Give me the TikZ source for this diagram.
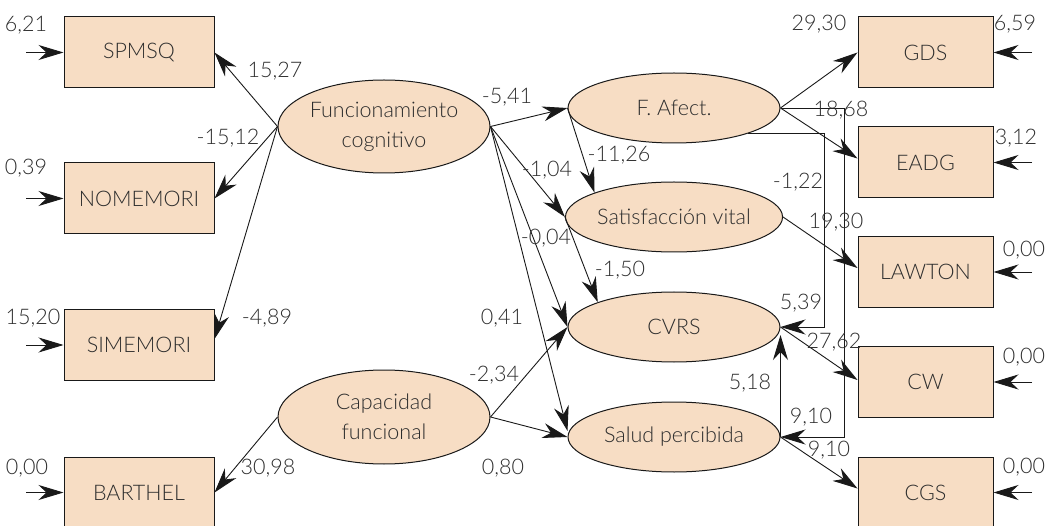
\documentclass[tikz,border=0pt]{standalone}
\usepackage{fontspec}
\setmainfont{Lato Light}
\usetikzlibrary{arrows.meta,shapes.geometric}
\definecolor{peach}{RGB}{247,221,196}
\definecolor{ink}{RGB}{25,25,25}
\definecolor{txt}{RGB}{45,45,45}
\begin{document}
\begin{tikzpicture}[x=1pt,y=-1pt,
  every node/.style={font=\fontsize{21.5}{30}\selectfont, text=txt},
  obs/.style={draw=ink, fill=peach, line width=1pt, minimum height=71pt, inner sep=0pt},
  lbox/.style={obs, minimum width=150pt},
  rbox/.style={obs, minimum width=135pt},
  lat/.style={draw=ink, fill=peach, ellipse, line width=1pt, minimum width=212pt,
              minimum height=70pt, inner sep=0pt, align=center},
  arr/.style={draw=ink, line width=0.9pt, -{Stealth[length=25pt,width=15pt,inset=8pt]}},
  coef/.style={inner sep=0pt}
]
\useasboundingbox (0,0) rectangle (1046,526);

% observed indicators, left column
\node[lbox] (spmsq) at (139,52.5) {SPMSQ};
\node[lbox] (nomem) at (139,198.5) {NOMEMORI};
\node[lbox] (simem) at (139,345) {SIMEMORI};
\node[lbox] (barth) at (139,492.5) {BARTHEL};

% observed indicators, right column
\node[rbox] (gds) at (925.5,52.5) {GDS};
\node[rbox] (eadg) at (925.5,162.5) {EADG};
\node[rbox] (lawton) at (925.5,272) {LAWTON};
\node[rbox] (cw) at (925.5,382) {CW};
\node[rbox] (cgs) at (925.5,492.5) {CGS};

% latent constructs
\node[lat, minimum height=93pt] (fc) at (384,126.5) {Funcionamiento\\cognitivo};
\node[lat, minimum height=94pt] (cf) at (384,417) {Capacidad\\funcional};
\node[lat] (fa) at (674,108) {F. Afect.};
\node[lat] (sv) at (674,217) {Satisfacción vital};
\node[lat] (cvrs) at (674,327) {CVRS};
\node[lat] (sp) at (674,437) {Salud percibida};

% error terms
\coordinate (e1) at (26,52.5);
\coordinate (e2) at (26,198.5);
\coordinate (e3) at (26,345);
\coordinate (e4) at (26,492.5);
\coordinate (e5) at (1032,52.5);
\coordinate (e6) at (1032,162.5);
\coordinate (e7) at (1032,272);
\coordinate (e8) at (1032,382);
\coordinate (e9) at (1032,492.5);
\draw[arr] (e1) -- (spmsq.west);
\draw[arr] (e2) -- (nomem.west);
\draw[arr] (e3) -- (simem.west);
\draw[arr] (e4) -- (barth.west);
\draw[arr] (e5) -- (gds.east);
\draw[arr] (e6) -- (eadg.east);
\draw[arr] (e7) -- (lawton.east);
\draw[arr] (e8) -- (cw.east);
\draw[arr] (e9) -- (cgs.east);

% measurement paths
\draw[arr] (fc.west) -- (spmsq.east);
\draw[arr] (fc.west) -- (nomem.east);
\draw[arr] (fc.west) -- ([yshift=6pt]simem.east);
\draw[arr] (cf.west) -- (barth.east);
\draw[arr] (fa.east) -- (gds.west);
\draw[arr] (fa.east) -- ([yshift=4pt]eadg.west);
\draw[arr] (sv.east) -- ([yshift=4pt]lawton.west);
\draw[arr] (cvrs.east) -- ([yshift=2pt]cw.west);
\draw[arr] (sp.east) -- ([yshift=4pt]cgs.west);

% structural paths
\draw[arr] (fc.east) -- (fa.west);
\draw[arr] (fc.east) -- (sv.west);
\draw[arr] (fc.east) -- (cvrs.west);
\draw[arr] (fc.east) -- ([yshift=6pt]sp.west);
\draw[arr] (cf.east) -- (cvrs.west);
\draw[arr] (cf.east) -- (sp.west);
\draw[arr] (fa.west) -- (sv.163);
\draw[arr] (sv.west) -- (cvrs.162);
\draw[arr] (sp.east) -- ([yshift=-8pt]cvrs.east);

% elbow connectors on the right
\coordinate (k1) at (824,230);
\coordinate (k2) at (844,280);
\draw[arr] (fa.-19) -| (k1) |- (cvrs.east);
\draw[arr] (fa.east) -| (k2) |- (sp.east);

% coefficients
\node[coef] at (26,25) {6,21};
\node[coef] at (26,168) {0,39};
\node[coef] at (33,318) {15,20};
\node[coef] at (27,468) {0,00};
\node[coef] at (275,71) {15,27};
\node[coef] at (228,138) {-15,12};
\node[coef] at (267,318) {-4,89};
\node[coef] at (268,468) {30,98};
\node[coef] at (507,97) {-5,41};
\node[coef] at (547,170) {-1,04};
\node[coef] at (546,238) {-0,04};
\node[coef] at (502,318) {0,41};
\node[coef] at (494,375) {-2,34};
\node[coef] at (503,468) {0,80};
\node[coef] at (619,155) {-11,26};
\node[coef] at (620,270) {-1,50};
\node[coef] at (819,24) {29,30};
\node[coef] at (841,110) {18,68};
\node[coef] at (798,182) {-1,22};
\node[coef] at (836,222) {19,30};
\node[coef] at (801,303) {5,39};
\node[coef] at (834,342) {27,62};
\node[coef] at (750,383) {5,18};
\node[coef] at (811,417) {9,10};
\node[coef] at (829,450) {9,10};
\node[coef] at (1015,24) {6,59};
\node[coef] at (1016,138) {3,12};
\node[coef] at (1024,250) {0,00};
\node[coef] at (1024,357) {0,00};
\node[coef] at (1024,467) {0,00};
\end{tikzpicture}
\end{document}
